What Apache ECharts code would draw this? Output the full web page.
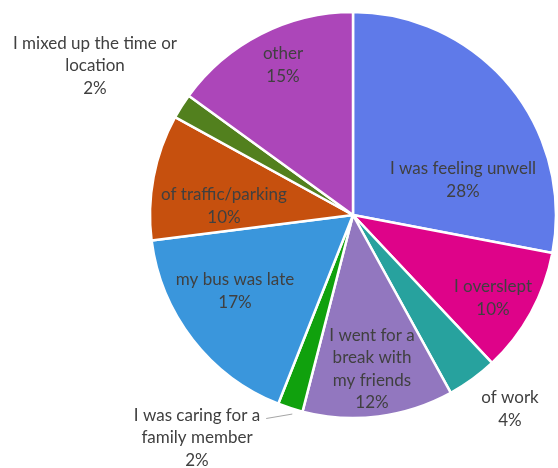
<!DOCTYPE html>
<html>
<head>
<meta charset="utf-8">
<script src="https://cdn.jsdelivr.net/npm/echarts@6/dist/echarts.min.js"></script>
<style>
  html, body { margin: 0; padding: 0; background: #fff; }
  #chart { width: 558px; height: 468px; }
</style>
</head>
<body>
<div id="chart"></div>
<script>
// Reasons for arriving late (share of answers, %)
const categories = [
  'I was feeling unwell',
  'I overslept',
  'of work',
  'I went for a\nbreak with\nmy friends',
  'I was caring for a\nfamily member',
  'my bus was late',
  'of traffic/parking',
  'I mixed up the time or\nlocation',
  'other'
];
const values = [28, 10, 4, 12, 2, 17, 10, 2, 15];
const colors = ['#5F7AE9', '#DE0389', '#27A29E', '#9277BF', '#10A10D',
                '#3A96DC', '#C6500E', '#52801E', '#AC46B9'];

// Where each label's centre sits on the canvas
const labelAnchors = [
  [463, 180], [493, 298], [510, 409], [372, 369], [197, 438],
  [235, 291], [224, 206], [95, 66], [283, 65]
];
// Only this slice gets a leader line
const leaderLine = [false, false, false, false, true, false, false, false, false];

const LINE_H = 22.5;

const chart = echarts.init(document.getElementById('chart'), null, { renderer: 'canvas' });

chart.setOption({
  animation: false,
  backgroundColor: '#ffffff',
  series: [{
    type: 'pie',
    center: [353, 215],
    radius: [0, 203],
    startAngle: 90,
    clockwise: true,
    avoidLabelOverlap: false,
    itemStyle: { borderColor: '#ffffff', borderWidth: 2.5 },
    label: {
      show: true,
      position: 'inside',
      formatter: p => p.name + '\n' + p.value + '%',
      fontFamily: 'Lato',
      fontSize: 17,
      lineHeight: LINE_H,
      color: '#404040',
      align: 'center'
    },
    labelLine: { show: false },
    labelLayout: params => {
      const i = params.dataIndex;
      const a = labelAnchors[i];
      const out = { x: a[0], y: a[1], align: 'center', verticalAlign: 'middle' };
      if (leaderLine[i] && params.labelLinePoints) {
        const start = params.labelLinePoints[0];
        const lines = categories[i].split('\n').length + 1;
        const firstLineY = a[1] - (lines - 1) * LINE_H / 2;
        const end = [a[0] + params.labelRect.width / 2 + 6, firstLineY + 3];
        out.labelLinePoints = [[start[0] + 2, start[1] + 6], end, end];
      }
      return out;
    },
    emphasis: { disabled: true },
    data: categories.map((name, i) => ({
      name: name,
      value: values[i],
      itemStyle: { color: colors[i] },
      label: leaderLine[i] ? { position: 'outside' } : undefined,
      labelLine: leaderLine[i]
        ? { show: true, length: 4, length2: 20, lineStyle: { color: '#a6a6a6', width: 1 } }
        : undefined
    }))
  }]
});
</script>
</body>
</html>
